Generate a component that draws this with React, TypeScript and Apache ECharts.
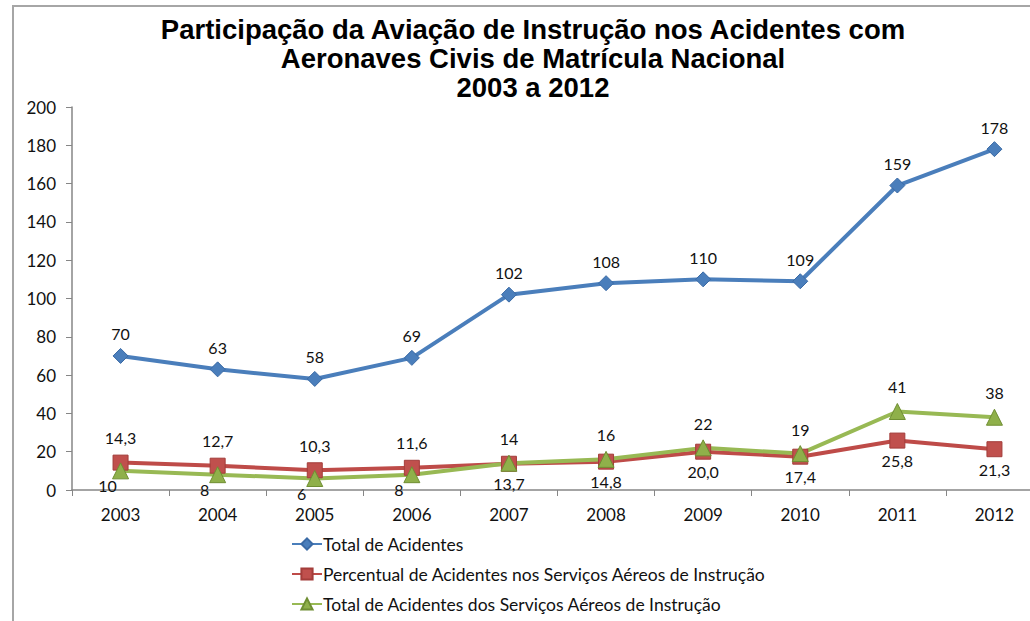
import React, { useEffect, useRef } from "react";
import * as echarts from "echarts";

const years = ["2003", "2004", "2005", "2006", "2007", "2008", "2009", "2010", "2011", "2012"];
const totalAcidentes = [70, 63, 58, 69, 102, 108, 110, 109, 159, 178];
const percentualInstrucao = [14.3, 12.7, 10.3, 11.6, 13.7, 14.8, 20.0, 17.4, 25.8, 21.3];
const totalInstrucao = [10, 8, 6, 8, 14, 16, 22, 19, 41, 38];
const titleLines = [
  "Participação da Aviação de Instrução nos Acidentes com",
  "Aeronaves Civis de Matrícula Nacional",
  "2003 a 2012",
];
const seriesNames = [
  "Total de Acidentes",
  "Percentual de Acidentes nos Serviços Aéreos de Instrução",
  "Total de Acidentes dos Serviços Aéreos de Instrução",
];

const FONT = "Lato, 'Open Sans', sans-serif";

export default function App() {
  const ref = useRef<HTMLDivElement>(null);
  useEffect(() => {
    if (!ref.current) return;
    const chart = echarts.init(ref.current, undefined, { renderer: "svg" });
    const labelStyle = { fontFamily: FONT, fontSize: 16, color: "#111" };
    chart.setOption({
      animation: false,
      backgroundColor: "#fff",
      title: {
        text: titleLines.join("\n"),
        left: 533,
        textAlign: "center",
        top: 15,
        padding: 0,
        textStyle: {
          fontFamily: "'Liberation Sans', Arial, sans-serif",
          fontWeight: "bold",
          fontSize: 27.5,
          lineHeight: 29,
          color: "#000",
        },
      },
      graphic: [
        { type: "line", shape: { x1: 12, y1: 6, x2: 1030, y2: 6 }, style: { stroke: "#a6a6a6", lineWidth: 2 } },
        { type: "line", shape: { x1: 13, y1: 6, x2: 13, y2: 621 }, style: { stroke: "#a6a6a6", lineWidth: 2 } },
      ],
      legend: {
        orient: "vertical",
        left: 291,
        top: 535,
        padding: 0,
        itemWidth: 30,
        itemHeight: 14,
        itemGap: 12,
        textStyle: { fontFamily: FONT, fontSize: 17.5, color: "#111", padding: [0, 0, 0, -4] },
        data: seriesNames,
      },
      grid: {
        left: 72,
        width: 971,
        top: 107,
        bottom: 131,
        containLabel: false,
        outerBoundsMode: "none",
      },
      xAxis: {
        type: "category",
        data: years,
        boundaryGap: true,
        axisLine: { lineStyle: { color: "#868686", width: 1.5 } },
        axisTick: { show: true, length: 6, lineStyle: { color: "#868686" } },
        axisLabel: { fontFamily: FONT, fontSize: 17, color: "#111", margin: 16 },
      },
      yAxis: {
        type: "value",
        min: 0,
        max: 200,
        interval: 20,
        splitLine: { show: false },
        axisLine: { show: true, lineStyle: { color: "#868686", width: 1.5 } },
        axisTick: { show: true, length: 6, lineStyle: { color: "#868686" } },
        axisLabel: { fontFamily: FONT, fontSize: 17, color: "#111", margin: 16 },
      },
      series: [
        {
          name: seriesNames[0],
          type: "line",
          data: totalAcidentes,
          color: "#4a7ebb",
          lineStyle: { width: 4, color: "#4a7ebb" },
          symbol: "diamond",
          symbolSize: 15,
          itemStyle: { color: "#4a7ebb", borderColor: "#3a6aa5", borderWidth: 1 },
          label: { show: true, position: "top", distance: 6, ...labelStyle },
        },
        {
          name: seriesNames[1],
          type: "line",
          data: percentualInstrucao.map((v, i) => ({
            value: v,
            label: i < 4 ? { position: "top", distance: 9 } : { position: "bottom", distance: 4 },
          })),
          color: "#be4b48",
          lineStyle: { width: 4, color: "#be4b48" },
          symbol: "rect",
          symbolSize: 15,
          itemStyle: { color: "#c0504d", borderColor: "#a33d3a", borderWidth: 1 },
          label: {
            show: true,
            ...labelStyle,
            formatter: (p: any) => Number(p.value).toFixed(1).replace(".", ","),
          },
        },
        {
          name: seriesNames[2],
          type: "line",
          data: totalInstrucao.map((v, i) => ({
            value: v,
            label: i < 4
              ? { position: "bottom", distance: -2, offset: [-13, 0] }
              : { position: "top", distance: 8 },
          })),
          color: "#98b954",
          lineStyle: { width: 4, color: "#98b954" },
          symbol: "triangle",
          symbolSize: 16,
          itemStyle: { color: "#8fb04a", borderColor: "#6f8e32", borderWidth: 1 },
          label: { show: true, ...labelStyle },
        },
      ],
    });
    return () => chart.dispose();
  }, []);
  return (
    <div
      ref={ref}
      style={{ position: "fixed", left: 0, top: 0, width: 1030, height: 621 }}
    />
  );
}
